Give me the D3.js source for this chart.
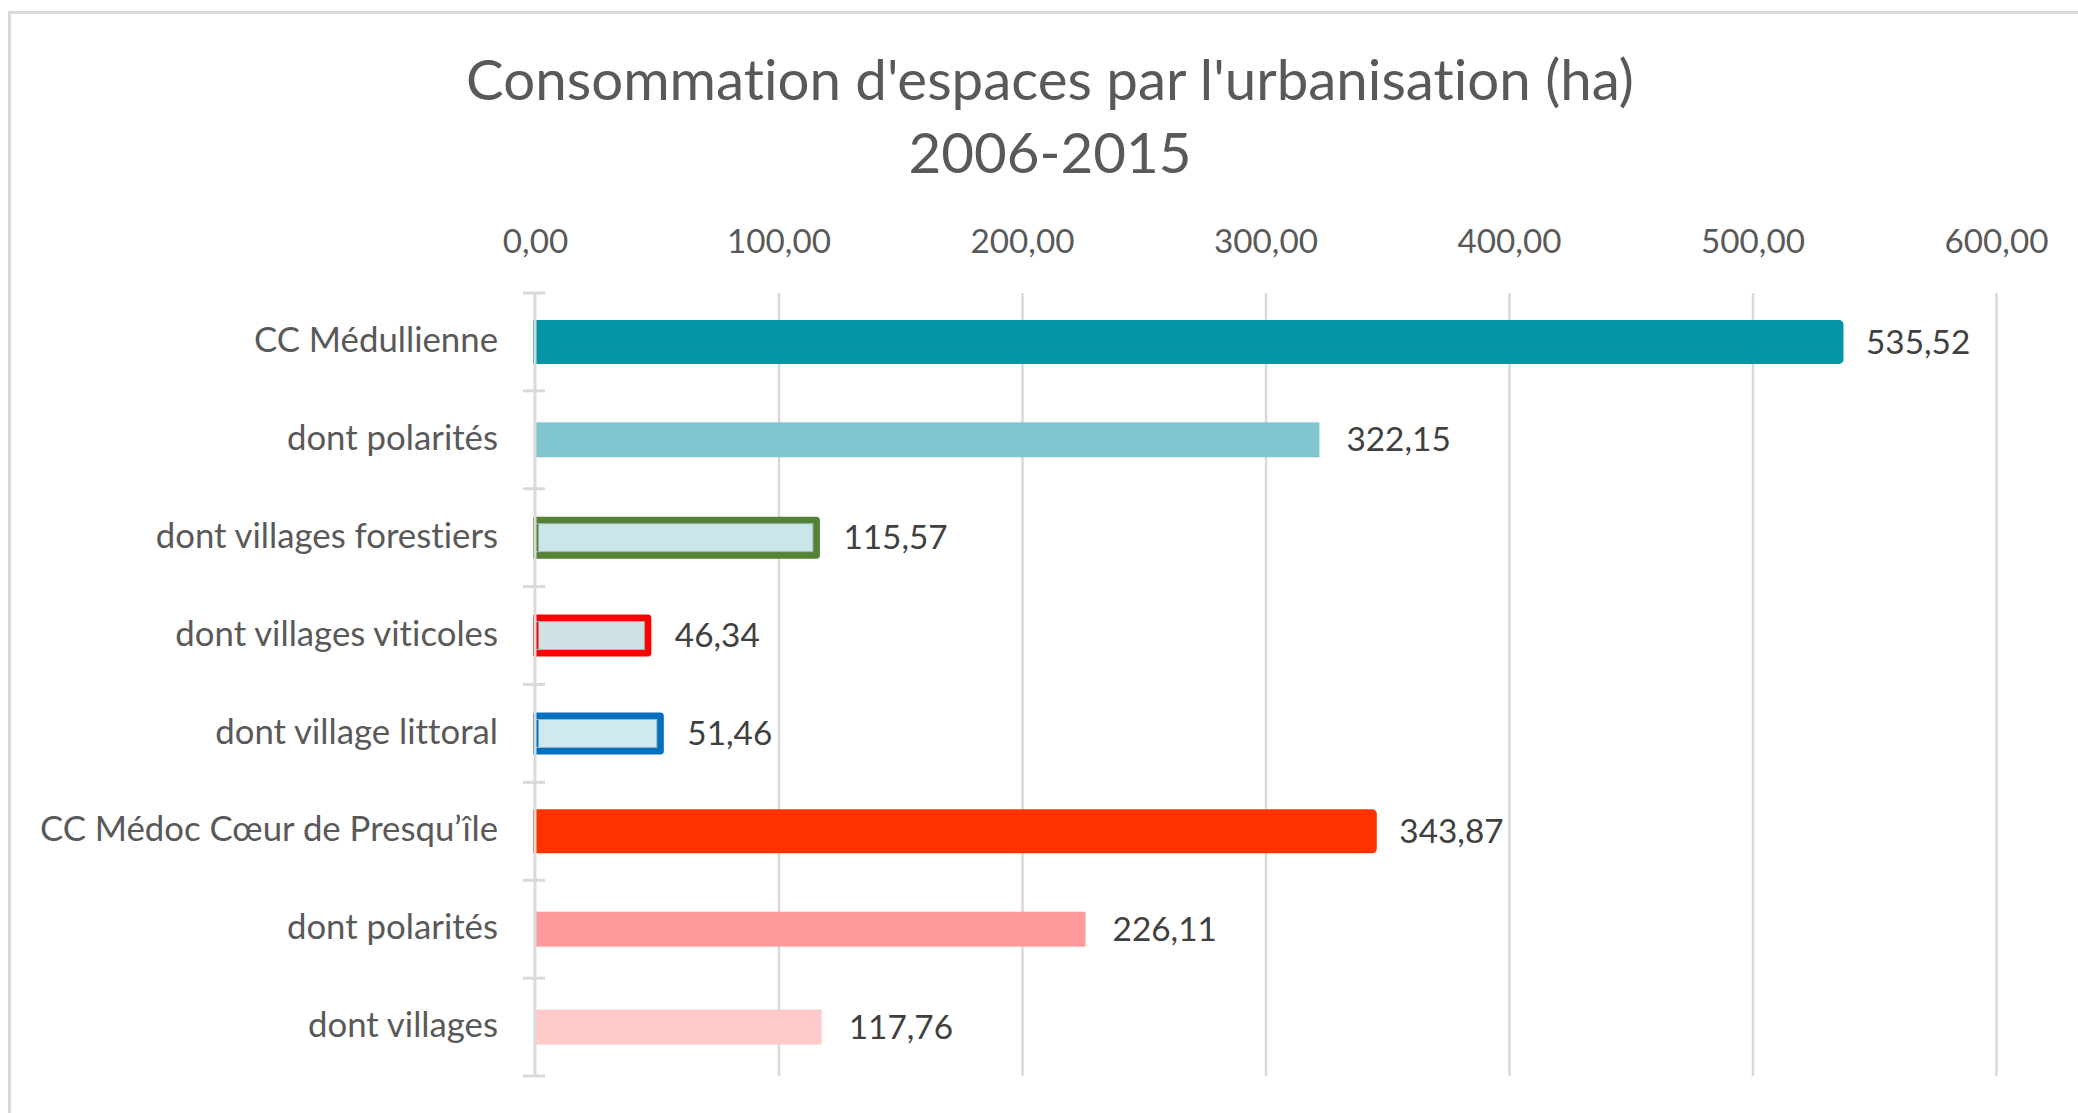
<!DOCTYPE html>
<html>
<head>
<meta charset="utf-8">
<script src="https://cdn.jsdelivr.net/npm/d3@7"></script>
<style>
  html, body { margin: 0; padding: 0; background: #fff; }
  svg { display: block; }
  text { font-variant-ligatures: none; font-feature-settings: "liga" 0; }
</style>
</head>
<body>
<svg width="2078" height="1113"></svg>
<script>
// donnees du graphique
var categories = ["CC Médullienne", "dont polarités", "dont villages forestiers", "dont villages viticoles",
                  "dont village littoral", "CC Médoc Cœur de Presqu’île", "dont polarités", "dont villages"];
var values = [535.52, 322.15, 115.57, 46.34, 51.46, 343.87, 226.11, 117.76];
var fills = ["#0394a5", "#7fc6ce", "#c9e7ea", "#cfe2e4", "#cdebee", "#ff3300", "#ff9b9b", "#ffcaca"];
var strokes = ["#0394a5", null, "#548235", "#ff0000", "#0070c0", "#ff3300", null, null];
var xTicks = [0, 100, 200, 300, 400, 500, 600];
var titleLines = ["Consommation d'espaces par l'urbanisation (ha)", "2006-2015"];

var svg = d3.select("svg"),
    font = "Lato, 'Open Sans', sans-serif",
    plotLeft = 535, plotRight = 1996, plotTop = 293, plotBottom = 1076;

var fr = d3.formatLocale({decimal: ",", thousands: " ", grouping: [3], currency: ["", " €"]});
var fmt = fr.format(".2f");

// ajuste la taille de police a la largeur voulue
function fit(str, target) {
  var t = svg.append("text").attr("font-family", font).attr("font-size", 100).text(str);
  var w = t.node().getComputedTextLength();
  t.remove();
  return 100 * target / w;
}
var titleSize = fit(titleLines[0], 1168),
    tickSize = fit("100,00", 104),
    catSize = fit("CC Médullienne", 244),
    valSize = fit("46,34", 85);

// cadre
svg.append("rect")
    .attr("x", 9.5).attr("y", 12.5).attr("width", 2300).attr("height", 1300)
    .attr("fill", "none").attr("stroke", "#d9d9d9").attr("stroke-width", 3);

// titre
svg.append("g").selectAll("text")
  .data(titleLines)
  .enter().append("text")
    .attr("x", 1050)
    .attr("y", function(d, i) { return i === 0 ? 100 : 173; })
    .attr("text-anchor", "middle")
    .attr("font-family", font)
    .attr("font-size", titleSize)
    .attr("fill", "#595959")
    .text(function(d) { return d; });

var x = d3.scaleLinear().domain([0, 600]).range([plotLeft, plotRight]);
var y = d3.scaleBand().domain(d3.range(categories.length)).range([plotTop, plotBottom])
    .paddingInner(0.643).paddingOuter(0.3215);

// lignes de grille
svg.append("g")
    .attr("transform", "translate(0," + plotTop + ")")
    .call(d3.axisBottom(x).tickValues(xTicks.slice(1)).tickSize(plotBottom - plotTop).tickFormat(""))
    .call(function(g) { g.select(".domain").remove(); })
    .selectAll("line").attr("stroke", "#d9d9d9").attr("stroke-width", 2.5);

// etiquettes de l'axe X
svg.append("g")
    .attr("transform", "translate(0,241)")
    .call(d3.axisTop(x).tickValues(xTicks).tickSize(0).tickFormat(fmt))
    .call(function(g) { g.select(".domain").remove(); })
    .selectAll("text")
      .attr("y", 0).attr("dy", "0.35em")
      .attr("font-family", font).attr("font-size", tickSize).attr("fill", "#595959");

// barres
svg.append("clipPath").attr("id", "clip")
  .append("rect").attr("x", plotLeft - 2).attr("y", 0).attr("width", 2000).attr("height", 1113);

var idx = d3.range(values.length);
var gBars = svg.append("g").attr("clip-path", "url(#clip)");

gBars.selectAll("rect.bar")
  .data(idx)
  .enter().append("rect")
    .attr("class", "bar")
    .attr("x", x(0))
    .attr("y", function(i) { return y(i); })
    .attr("width", function(i) { return x(values[i]) - x(0); })
    .attr("height", y.bandwidth())
    .attr("fill", function(i) { return fills[i]; })
    .attr("stroke", function(i) { return strokes[i] || "none"; })
    .attr("stroke-width", function(i) { return fills[i] === strokes[i] ? 9 : 7; })
    .attr("stroke-linejoin", "round");

// liseret interieur des barres encadrees
gBars.selectAll("rect.inner")
  .data(idx.filter(function(i) { return strokes[i] && strokes[i] !== fills[i]; }))
  .enter().append("rect")
    .attr("class", "inner")
    .attr("x", x(0))
    .attr("y", function(i) { return y(i) + 3.5; })
    .attr("width", function(i) { return x(values[i]) - x(0) - 3.5; })
    .attr("height", y.bandwidth() - 7)
    .attr("fill", "none")
    .attr("stroke", "#9fb5b7").attr("stroke-width", 1);

// axe vertical et graduations
var yAxis = svg.append("g");
yAxis.append("line")
    .attr("x1", x(0)).attr("x2", x(0)).attr("y1", plotTop).attr("y2", plotBottom)
    .attr("stroke", "#d9d9d9").attr("stroke-width", 3);
yAxis.selectAll(".tick")
  .data(d3.range(categories.length + 1))
  .enter().append("line")
    .attr("x1", x(0) - 12).attr("x2", x(0) + 10)
    .attr("y1", function(i) { return plotTop + i * y.step(); })
    .attr("y2", function(i) { return plotTop + i * y.step(); })
    .attr("stroke", "#d9d9d9").attr("stroke-width", 3);

// etiquettes des categories
svg.append("g").selectAll("text")
  .data(categories)
  .enter().append("text")
    .attr("x", 498)
    .attr("y", function(d, i) { return y(i) + y.bandwidth() / 2 - 2; })
    .attr("dy", "0.35em")
    .attr("text-anchor", "end")
    .attr("font-family", font).attr("font-size", catSize).attr("fill", "#595959")
    .text(function(d) { return d; });

// etiquettes de valeurs
svg.append("g").selectAll("text")
  .data(values)
  .enter().append("text")
    .attr("x", function(d) { return x(d) + 27; })
    .attr("y", function(d, i) { return y(i) + y.bandwidth() / 2; })
    .attr("dy", "0.35em")
    .attr("font-family", font).attr("font-size", valSize).attr("fill", "#404040")
    .text(function(d) { return fmt(d); });
</script>
</body>
</html>
